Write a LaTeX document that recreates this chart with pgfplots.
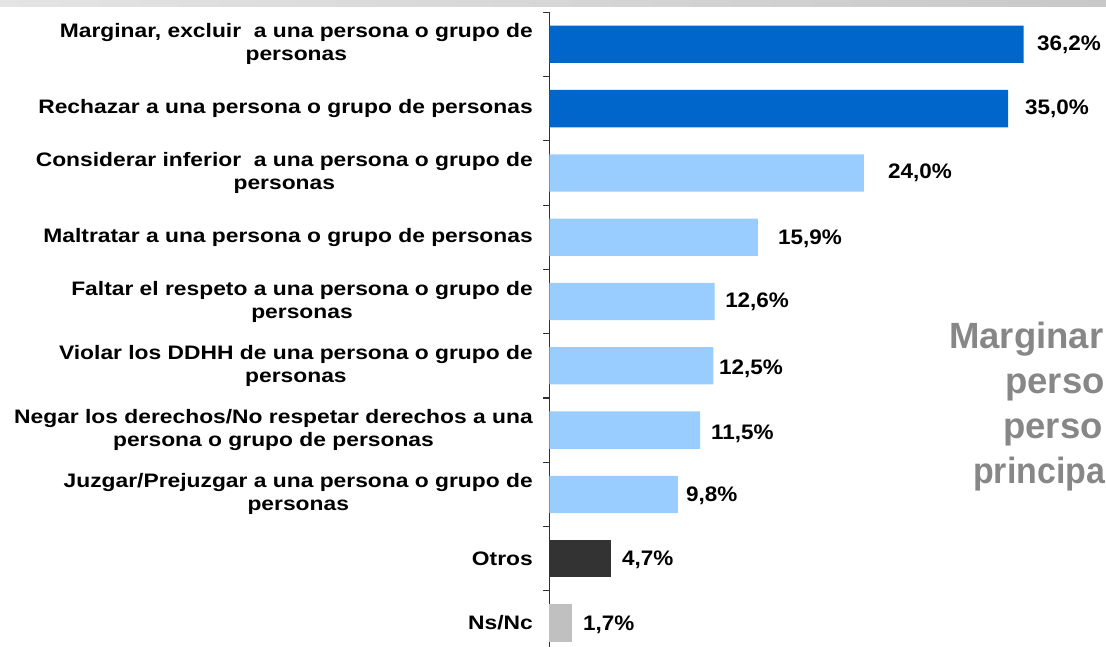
\documentclass[border=0pt]{standalone}
\usepackage{pgfplots}
\pgfplotsset{compat=1.18}
\usepackage{pgfplotstable}
\usepackage{fontspec}
\setmainfont{Liberation Sans}
\definecolor{darkblue}{HTML}{0066CC}
\definecolor{lightblue}{HTML}{99CCFF}
\definecolor{otros}{HTML}{333333}
\definecolor{nsnc}{HTML}{C0C0C0}
\definecolor{graytxt}{HTML}{878787}
\definecolor{axisgray}{HTML}{303030}
\definecolor{bandleft}{HTML}{E4E4E4}
\definecolor{bandright}{HTML}{C8C8C8}

\pgfplotstableread{
x y label
37.21 0.00 36,2\%
36.30 1.00 35,0\%
25.84 2.00 24,0\%
17.44 3.03 15,9\%
13.40 4.00 12,6\%
12.94 5.05 12,5\%
12.33 6.05 11,5\%
10.42 7.02 9,8\%
5.53 8.02 4,7\%
2.56 9.03 1,7\%
}\labeltab

\begin{document}
\begin{tikzpicture}
\useasboundingbox (0pt,0pt) rectangle (1106pt,-647pt);
\clip (0pt,0pt) rectangle (1106pt,-647pt);
\shade[left color=bandleft, right color=bandright] (0pt,0pt) rectangle (1106pt,-7pt);
\begin{axis}[
  at={(549.5pt,-12.15pt)}, anchor=north west,
  scale only axis, width=550.2pt, height=643pt,
  xmin=0, xmax=42, ymin=-0.5, ymax=9.5, y dir=reverse,
  axis x line=none, axis y line*=left,
  y axis line style={-, line width=1.1pt, color=axisgray},
  ytick={0,...,9},
  yticklabels={
    {Marginar, excluir~ a una persona o grupo de\\personas},
    {Rechazar a una persona o grupo de personas},
    {Considerar inferior~ a una persona o grupo de\\personas},
    {Maltratar a una persona o grupo de personas},
    {Faltar el respeto a una persona o grupo de\\personas},
    {Violar los DDHH de una persona o grupo de\\personas},
    {Negar los derechos/No respetar derechos a una\\persona o grupo de personas},
    {Juzgar/Prejuzgar a una persona o grupo de\\personas},
    {Otros},
    {Ns/Nc}},
  minor ytick={-0.5,0.5,...,9.5},
  major tick length=0pt, minor tick length=6pt,
  tick align=outside,
  minor tick style={line width=1.1pt, color=axisgray},
  yticklabel style={font=\fontsize{19.5}{23}\selectfont\bfseries, align=center,
     anchor=east, inner sep=0pt, xshift=-16.5pt, xscale=1.17},
  xbar, bar width=0.58,
  clip=false,
]
\addplot[xbar, bar shift=0pt, fill=darkblue, draw=none] coordinates {(36.2,0) (35.0,1)};
\addplot[xbar, bar shift=0pt, fill=lightblue, draw=none] coordinates {(24.0,2) (15.9,3) (12.6,4) (12.5,5) (11.5,6) (9.8,7)};
\addplot[xbar, bar shift=0pt, fill=otros, draw=none] coordinates {(4.7,8)};
\addplot[xbar, bar shift=0pt, fill=nsnc, draw=none] coordinates {(1.7,9)};
\addplot[draw=none, mark=none, xbar=false, only marks, point meta=explicit symbolic,
  nodes near coords, nodes near coords align={anchor=west},
  every node near coord/.append style={anchor=west, inner sep=0pt,
     font=\fontsize{21}{25}\selectfont\bfseries, xscale=1.07}]
  table[x=x, y=y, meta=label] {\labeltab};
\end{axis}
\begin{scope}[every node/.style={anchor=base west, inner sep=0pt, text=graytxt,
   font=\fontsize{36.5}{44}\selectfont\bfseries}]
\node at (949pt,-348.3pt) {Marginar};
\node at (1005pt,-393.3pt) {perso};
\node at (1003pt,-438.3pt) {perso};
\node[xscale=0.93] at (973pt,-483.3pt) {principa};
\end{scope}
\end{tikzpicture}
\end{document}
